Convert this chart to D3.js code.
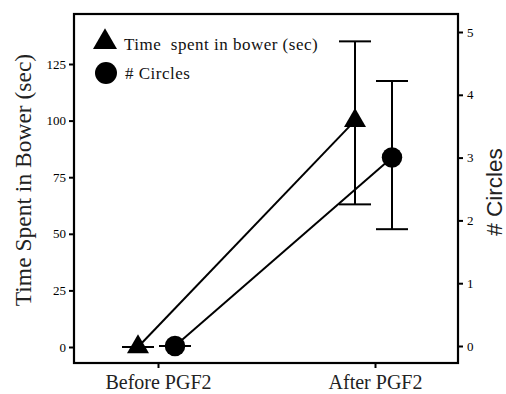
<!DOCTYPE html>
<html>
<head>
<meta charset="utf-8">
<script src="https://cdn.jsdelivr.net/npm/d3@7"></script>
<style>
  body { margin: 0; background: #fff; }
  svg { display: block; }
</style>
</head>
<body>
<script>
var categories = ["Before PGF2", "After PGF2"];
var timeMean = [0, 100];
var timeLow = [0, 63];
var timeHigh = [0, 135];
var circlesMean = [0, 3];
var circlesLow = [0, 1.86];
var circlesHigh = [0, 4.22];
var leftTicks = [0, 25, 50, 75, 100, 125];
var rightTicks = [0, 1, 2, 3, 4, 5];

var W = 506, H = 394;
var box = { left: 74, right: 458, top: 14, bottom: 363 };

var svg = d3.select("body").append("svg")
  .attr("width", W)
  .attr("height", H);

var x = d3.scalePoint().domain(categories).range([158, 375]);
var yL = d3.scaleLinear().domain([0, 125]).range([347, 64]);
var yR = d3.scaleLinear().domain([0, 5]).range([346, 32]);

var serif = "'Liberation Serif', 'Times New Roman', serif";
var sans = "'Liberation Sans', Arial, sans-serif";

// frame
svg.append("rect")
  .attr("x", box.left).attr("y", box.top)
  .attr("width", box.right - box.left).attr("height", box.bottom - box.top)
  .attr("fill", "none").attr("stroke", "#000").attr("stroke-width", 2.2);

// axes
var gl = svg.append("g").attr("transform", `translate(${box.left},0)`)
  .call(d3.axisLeft(yL).tickValues(leftTicks).tickSize(5).tickPadding(3));
var gr = svg.append("g").attr("transform", `translate(${box.right},0)`)
  .call(d3.axisRight(yR).tickValues(rightTicks).tickFormat(d3.format("d")).tickSize(5).tickPadding(4));
var gb = svg.append("g").attr("transform", `translate(0,${box.bottom})`)
  .call(d3.axisBottom(x).tickSize(5).tickPadding(7));

[gl, gr].forEach(g => {
  g.attr("font-family", serif).attr("font-size", 13);
  g.select(".domain").remove();
  g.selectAll("line").attr("stroke-width", 2);
  g.selectAll("text").attr("fill", "#000");
});
gb.attr("font-family", serif).attr("font-size", 20);
gb.select(".domain").remove();
gb.selectAll("line").attr("stroke-width", 2);
gb.selectAll("text").attr("fill", "#222");

// axis titles
svg.append("text")
  .attr("transform", "translate(31,180) rotate(-90)")
  .attr("text-anchor", "middle")
  .attr("font-family", serif).attr("font-size", 23.5).attr("fill", "#222")
  .text("Time Spent in Bower (sec)");

svg.append("text")
  .attr("transform", "translate(502,192) rotate(-90)")
  .attr("text-anchor", "middle")
  .attr("font-family", sans).attr("font-size", 22.5).attr("fill", "#222")
  .text("# Circles");

// series
var tri = categories.map((c, i) => ({
  x: x(c) - 20, y: yL(timeMean[i]), lo: yL(timeLow[i]), hi: yL(timeHigh[i])
}));
var cir = categories.map((c, i) => ({
  x: x(c) + 17, y: yR(circlesMean[i]), lo: yR(circlesLow[i]), hi: yR(circlesHigh[i])
}));

function drawSeries(pts, capW, marker) {
  var g = svg.append("g");
  g.append("path")
    .attr("d", d3.line().x(d => d.x).y(d => d.y)(pts))
    .attr("fill", "none").attr("stroke", "#000").attr("stroke-width", 2);
  pts.forEach(d => {
    g.append("line").attr("x1", d.x).attr("x2", d.x).attr("y1", d.lo).attr("y2", d.hi)
      .attr("stroke", "#000").attr("stroke-width", 2);
    [d.lo, d.hi].forEach(v => {
      g.append("line").attr("x1", d.x - capW / 2).attr("x2", d.x + capW / 2)
        .attr("y1", v).attr("y2", v)
        .attr("stroke", "#000").attr("stroke-width", 2);
    });
  });
  g.selectAll(".m").data(pts).enter().append("path")
    .attr("transform", d => `translate(${d.x},${d.y})`)
    .attr("d", marker)
    .attr("fill", "#000");
}

var triPath = d3.symbol().type(d3.symbolTriangle).size(210)();
var cirPath = d3.symbol().type(d3.symbolCircle).size(330)();

drawSeries(tri, 32, triPath);
drawSeries(cir, 32, cirPath);

// legend
var leg = svg.append("g");
leg.append("path").attr("transform", "translate(105,42)")
  .attr("d", d3.symbol().type(d3.symbolTriangle).size(250)()).attr("fill", "#000");
leg.append("path").attr("transform", "translate(106,73)")
  .attr("d", d3.symbol().type(d3.symbolCircle).size(380)()).attr("fill", "#000");
leg.append("text").attr("x", 124).attr("y", 50)
  .attr("font-family", serif).attr("font-size", 17).attr("fill", "#111")
  .attr("letter-spacing", 0.5)
  .attr("xml:space", "preserve")
  .text("Time  spent in bower (sec)");
leg.append("text").attr("x", 125).attr("y", 79)
  .attr("font-family", serif).attr("font-size", 17).attr("fill", "#111")
  .attr("letter-spacing", 0.5)
  .text("# Circles");
</script>
</body>
</html>
